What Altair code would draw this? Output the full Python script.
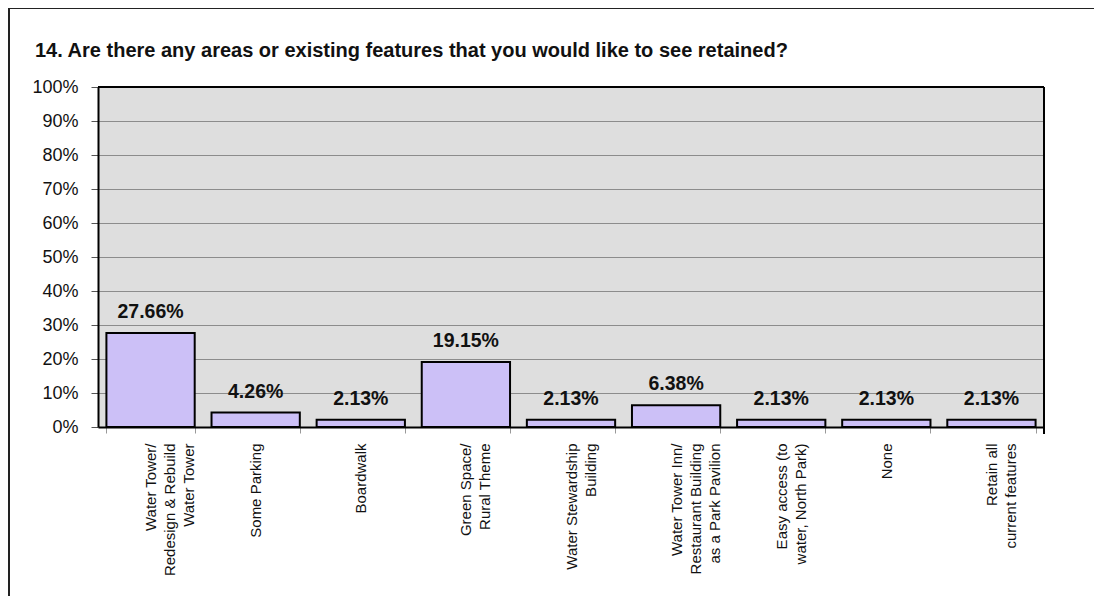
import altair as alt
import pandas as pd

categories = [
    "Water Tower/|Redesign & Rebuild|Water Tower",
    "Some Parking",
    "Boardwalk",
    "Green Space/|Rural Theme",
    "Water Stewardship|Building",
    "Water Tower Inn/|Restaurant Building|as a Park Pavilion",
    "Easy access (to|water, North Park)",
    "None",
    "Retain all|current features",
]
values = [27.66, 4.26, 2.13, 19.15, 2.13, 6.38, 2.13, 2.13, 2.13]
value_labels = ["27.66%", "4.26%", "2.13%", "19.15%", "2.13%", "6.38%", "2.13%", "2.13%", "2.13%"]
y_ticks = [0, 10, 20, 30, 40, 50, 60, 70, 80, 90, 100]
title_text = "14. Are there any areas or existing features that you would like to see retained?"

df = pd.DataFrame({"cat": categories, "val": values, "lbl": value_labels})

FONT = "Liberation Sans"

x_axis = alt.Axis(
    title=None,
    labelAngle=-90,
    labelAlign="right",
    labelBaseline="middle",
    labelExpr="split(datum.label, '|')",
    labelFont=FONT,
    labelFontSize=15,
    labelColor="#111",
    labelPadding=10,
    labelLineHeight=19,
    labelLimit=300,
    domainColor="black",
    domainWidth=2,
    tickColor="#999",
    tickSize=6,
    tickBand="extent",
    grid=False,
)
x_scale = alt.Scale(paddingInner=0.16, paddingOuter=0.08)

y_axis = alt.Axis(
    title=None,
    values=y_ticks,
    labelExpr="datum.value + '%'",
    labelFont=FONT,
    labelFontSize=18,
    labelColor="#111",
    labelPadding=13,
    labelOverlap=False,
    domainColor="black",
    domainWidth=2,
    tickColor="#555",
    tickSize=7,
    grid=True,
    gridColor="#8c8c8c",
    gridWidth=1,
)
y_scale = alt.Scale(domain=[0, 100], nice=False)

bars = alt.Chart(df).mark_bar(
    color="#ccc0f7", stroke="black", strokeWidth=2
).encode(
    x=alt.X("cat:N", sort=categories, scale=x_scale, axis=x_axis),
    y=alt.Y("val:Q", scale=y_scale, axis=y_axis),
)

texts = alt.Chart(df).mark_text(
    font=FONT, fontSize=19.5, fontWeight="bold", baseline="bottom", dy=-11, color="#111"
).encode(
    x=alt.X("cat:N", sort=categories, scale=x_scale, axis=x_axis),
    y=alt.Y("val:Q", scale=y_scale, axis=y_axis),
    text="lbl:N",
)

frame_left = alt.Chart(df).mark_rule(color="#222", strokeWidth=2).encode(
    x=alt.value(-89), y=alt.value(-79), y2=alt.value(600)
)
frame_top = alt.Chart(df).mark_rule(color="#222", strokeWidth=2).encode(
    x=alt.value(-90), x2=alt.value(1100), y=alt.value(-79)
)
right_edge = alt.Chart(df).mark_rule(color="black", strokeWidth=2).encode(
    x=alt.value(946), y=alt.value(0), y2=alt.value(347)
)
top_edge = alt.Chart(df).mark_rule(color="black", strokeWidth=2).encode(
    x=alt.value(0), x2=alt.value(946), y=alt.value(0)
)

chart = alt.layer(bars, texts, right_edge, top_edge, frame_left, frame_top).properties(
    width=946,
    height=340,
    autosize=alt.AutoSizeParams(type="none"),
    padding={"left": 90, "top": 79, "right": 50, "bottom": 170},
    title=alt.TitleParams(
        title_text,
        anchor="start",
        frame="group",
        dx=-63,
        dy=78,
        offset=24,
        font=FONT,
        fontSize=20,
        fontWeight="bold",
        color="#111",
    ),
).configure(background="white").configure_view(fill="#dedede", stroke=None)

chart.save("out.html", embed_options={"renderer": "svg", "actions": False})
